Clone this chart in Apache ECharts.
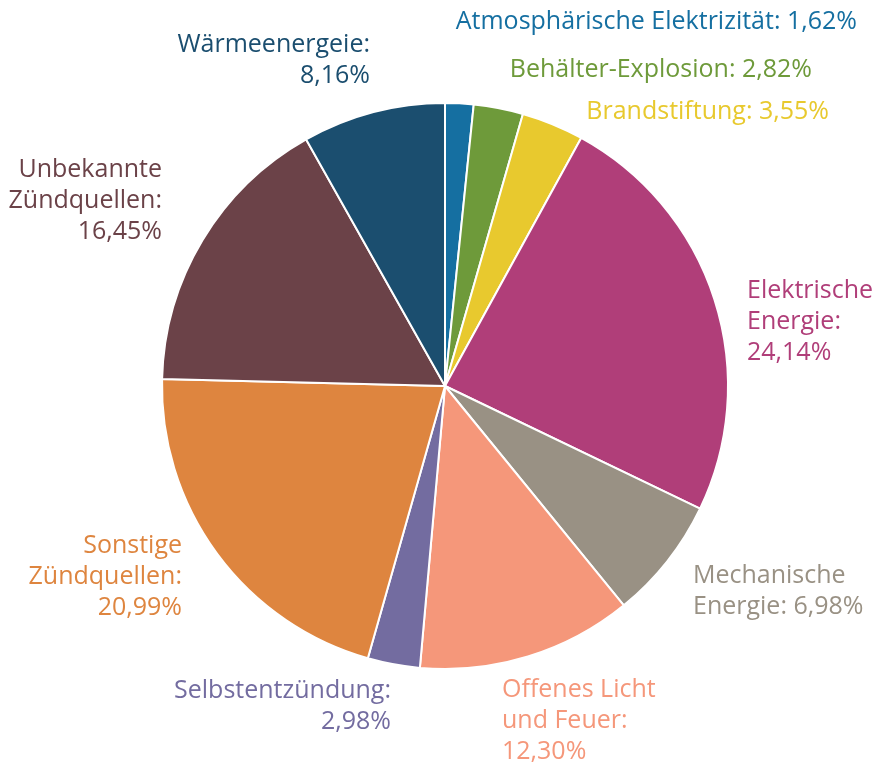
<!DOCTYPE html>
<html>
<head>
<meta charset="utf-8">
<script src="https://cdn.jsdelivr.net/npm/echarts@6/dist/echarts.min.js"></script>
<style>html,body{margin:0;padding:0;background:#fff;}#c{width:877px;height:767px;}</style>
</head>
<body>
<div id="c"></div>
<script>
var names = ['Atmosphärische Elektrizität', 'Behälter-Explosion', 'Brandstiftung', 'Elektrische\nEnergie', 'Mechanische\nEnergie', 'Offenes Licht\nund Feuer', 'Selbstentzündung', 'Sonstige\nZündquellen', 'Unbekannte\nZündquellen', 'Wärmeenergeie'];
var values = [1.62, 2.82, 3.55, 24.14, 6.98, 12.30, 2.98, 20.99, 16.45, 8.16];
var valueSep = [' ', ' ', ' ', '\n', ' ', '\n', '\n', '\n', '\n', '\n'];
var colors = ['#156fa1', '#6e9a3a', '#e8c92e', '#b03e79', '#999184', '#f5977a', '#736ca0', '#de853f', '#6b4248', '#1b4e6f'];
// label anchor layout (x, y, align)
var labelPos = [
  [857, 22, 'right'], [812, 70, 'right'], [829, 112, 'right'], [747, 322, 'left'],
  [693, 591, 'left'], [502, 721, 'left'], [391, 706, 'right'], [182, 577, 'right'],
  [162, 201, 'right'], [370, 60, 'right']
];
var data = names.map(function (n, i) {
  return { name: n, value: values[i], itemStyle: { color: colors[i] }, label: { color: colors[i] } };
});
var chart = echarts.init(document.getElementById('c'));
chart.setOption({
  animation: false,
  series: [{
    type: 'pie',
    center: [445, 386],
    radius: [0, 283],
    startAngle: 90,
    clockwise: true,
    avoidLabelOverlap: false,
    data: data,
    itemStyle: { borderColor: '#ffffff', borderWidth: 2 },
    label: {
      show: true,
      position: 'outside',
      fontFamily: 'Open Sans',
      fontWeight: 'normal',
      fontSize: 25,
      lineHeight: 31,
      formatter: function (p) {
        return p.name + ':' + valueSep[p.dataIndex] + p.value.toFixed(2).replace('.', ',') + '%';
      }
    },
    labelLine: { show: false },
    labelLayout: function (p) {
      var lp = labelPos[p.dataIndex];
      return { x: lp[0], y: lp[1], align: lp[2], verticalAlign: 'middle', hideOverlap: false };
    }
  }]
});
</script>
</body>
</html>
